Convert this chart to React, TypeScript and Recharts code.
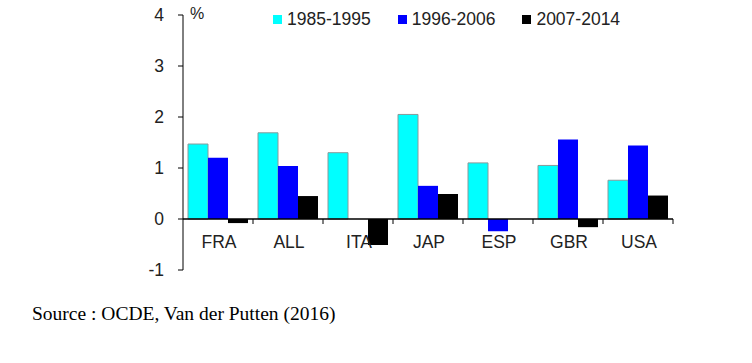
import { BarChart, Bar, XAxis, YAxis, ReferenceLine, Legend } from 'recharts';

const countries = ['FRA', 'ALL', 'ITA', 'JAP', 'ESP', 'GBR', 'USA'];
const p1985 = [1.47, 1.69, 1.3, 2.05, 1.1, 1.05, 0.76];
const p1996 = [1.2, 1.04, 0, 0.65, -0.24, 1.56, 1.44];
const p2007 = [-0.08, 0.45, -0.51, 0.49, 0, -0.16, 0.46];
const yTicks = [-1, 0, 1, 2, 3, 4];
const periods = ['1985-1995', '1996-2006', '2007-2014'];
const colors = ['#00ffff', '#0000ff', '#000000'];

const data = countries.map((c, i) => ({
  country: c,
  a: p1985[i],
  b: p1996[i],
  c: p2007[i],
}));

const W = 752;
const H = 290;
const MARGIN = { top: 15, right: 79, bottom: 0, left: 0 };
const X_AXIS_H = 20;
const PLOT_H = H - MARGIN.top - MARGIN.bottom - X_AXIS_H;
const Y_MIN = -1;
const Y_MAX = 4;
// distance from plot bottom (y = -1) up to the zero line
const ZERO_SHIFT = (PLOT_H * (0 - Y_MIN)) / (Y_MAX - Y_MIN);

const font = '"Liberation Sans", Arial, sans-serif';

function CountryTick(props: any) {
  const { x, y, payload } = props;
  const half = payload.offset ?? (W - 183 - MARGIN.right) / countries.length / 2;
  const zeroY = y - ZERO_SHIFT;
  return (
    <g>
      <line x1={x + half} x2={x + half} y1={zeroY} y2={zeroY + 5} stroke="#000" />
      <text
        x={x + 1}
        y={zeroY + 29}
        textAnchor="middle"
        fontSize={17.5}
        fontFamily={font}
        fill="#222"
      >
        {payload.value}
      </text>
    </g>
  );
}

function PeriodLegend() {
  return (
    <div style={{ display: 'flex', fontFamily: font, fontSize: 17.5, color: '#222' }}>
      {periods.map((p, i) => (
        <div key={p} style={{ display: 'flex', alignItems: 'center', marginRight: 27 }}>
          <span
            style={{
              display: 'inline-block',
              width: 9,
              height: 9,
              background: colors[i],
              marginRight: 5,
            }}
          />
          {p}
        </div>
      ))}
    </div>
  );
}

export default function App() {
  return (
    <div style={{ position: 'absolute', left: 0, top: 0, width: W, height: 363, background: '#fff' }}>
      <BarChart
        width={W}
        height={H}
        data={data}
        margin={MARGIN}
        barCategoryGap={5}
        barGap={0}
      >
        <YAxis
          domain={[Y_MIN, Y_MAX]}
          ticks={yTicks}
          width={183}
          axisLine={{ stroke: '#000' }}
          tickLine={{ stroke: '#000' }}
          tickSize={5}
          tickMargin={14}
          tick={{ fill: '#222', fontSize: 17.5, fontFamily: font }}
          interval={0}
        />
        <XAxis
          dataKey="country"
          height={X_AXIS_H}
          axisLine={false}
          tickLine={false}
          tickSize={0}
          tickMargin={0}
          interval={0}
          tick={<CountryTick />}
        />
        <Legend
          layout="vertical"
          verticalAlign="middle"
          align="center"
          wrapperStyle={{ top: 9, left: 273, width: 420, height: 24 }}
          content={<PeriodLegend />}
        />
        <Bar dataKey="a" name={periods[0]} fill={colors[0]} stroke="#8a9a9a" strokeWidth={1} isAnimationActive={false} />
        <Bar dataKey="b" name={periods[1]} fill={colors[1]} isAnimationActive={false} />
        <Bar dataKey="c" name={periods[2]} fill={colors[2]} isAnimationActive={false} />
        <ReferenceLine y={0} stroke="#000" strokeWidth={1.5} />
      </BarChart>
      <span
        style={{
          position: 'absolute',
          left: 190,
          top: 5,
          fontFamily: font,
          fontSize: 16,
          color: '#222',
        }}
      >
        %
      </span>
      <div
        style={{
          position: 'absolute',
          left: 32,
          top: 303,
          fontFamily: '"Liberation Serif", "Times New Roman", serif',
          fontSize: 19.5,
          color: '#000',
        }}
      >
        Source : OCDE, Van der Putten (2016)
      </div>
    </div>
  );
}
